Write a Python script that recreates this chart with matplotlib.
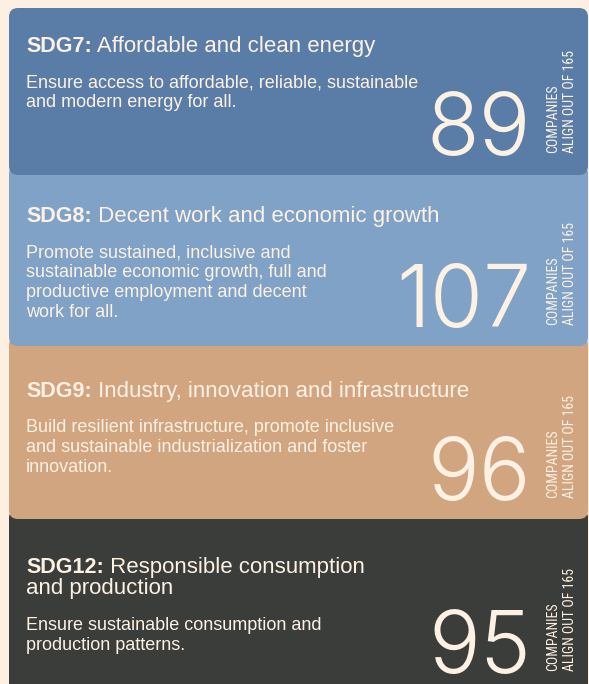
import matplotlib
matplotlib.use("Agg")
import matplotlib.pyplot as plt
from matplotlib.patches import FancyBboxPatch

# ---- data ----
codes = ["SDG7:", "SDG8:", "SDG9:", "SDG12:"]
titles = [
    ["Affordable and clean energy"],
    ["Decent work and economic growth"],
    ["Industry, innovation and infrastructure"],
    ["Responsible consumption", "and production"],
]
descriptions = [
    ["Ensure access to affordable, reliable, sustainable",
     "and modern energy for all."],
    ["Promote sustained, inclusive and",
     "sustainable economic growth, full and",
     "productive employment and decent",
     "work for all."],
    ["Build resilient infrastructure, promote inclusive",
     "and sustainable industrialization and foster",
     "innovation."],
    ["Ensure sustainable consumption and",
     "production patterns."],
]
counts = [89, 107, 96, 95]
total_companies = 165
side_label = "COMPANIES\nALIGN OUT OF {}"

# ---- style / layout ----
bg = "#FDF0E2"
card_colors = ["#5A7DA8", "#7FA2C6", "#D1A57F", "#3B3D3A"]
txt_col = "#FDF1E4"
card_top = [8, 165, 336, 509]
card_bot = [175, 346, 519, 700]
title_base = [52, 222, 397, 573]
body_base = [87, 257, 432, 630]
num_base = [155, 327, 500, 673]
W, H = 589, 684

fig = plt.figure(figsize=(W / 100, H / 100), dpi=100, facecolor=bg)
ax = fig.add_axes([0, 0, 1, 1])
ax.set_xlim(0, W)
ax.set_ylim(H, 0)
ax.axis("off")
ax.set_facecolor(bg)

for i in reversed(range(len(codes))):
    top, bot = card_top[i], card_bot[i]
    ax.add_patch(FancyBboxPatch((9, top), 579, bot - top,
                                boxstyle="round,pad=0,rounding_size=9",
                                fc=card_colors[i], ec="none", zorder=i * -10 + 40))

fig.canvas.draw()
for i in range(len(codes)):
    z = i * -10 + 41
    tb = ax.text(26, title_base[i], codes[i], fontsize=15.5, fontweight="bold",
                 family="Liberation Sans", color=txt_col, va="baseline", zorder=z)
    for j, line in enumerate(titles[i]):
        if j == 0:
            ax.annotate(" " + line, xy=(1, 0), xycoords=tb, fontsize=16,
                        family="Liberation Sans", color=txt_col,
                        va="bottom", ha="left", zorder=z)
        else:
            ax.text(26, title_base[i] + 21 * j, line, fontsize=16,
                    family="Liberation Sans", color=txt_col, va="baseline", zorder=z)
    for j, line in enumerate(descriptions[i]):
        ax.text(26, body_base[i] + 20 * j, line, fontsize=13,
                family="Liberation Sans", color=txt_col, va="baseline", zorder=z)
    ax.text(531, num_base[i], str(counts[i]), fontsize=62, family="Inter",
            fontweight=300, color=txt_col, ha="right", va="baseline", zorder=z)
    ax.text(546, num_base[i] - 2, side_label.format(total_companies), fontsize=10,
            family="Roboto Condensed", color=txt_col, rotation=90,
            ha="left", va="bottom", multialignment="left", linespacing=1.3, zorder=z)

fig.savefig("out.png", dpi=100, facecolor=bg)
